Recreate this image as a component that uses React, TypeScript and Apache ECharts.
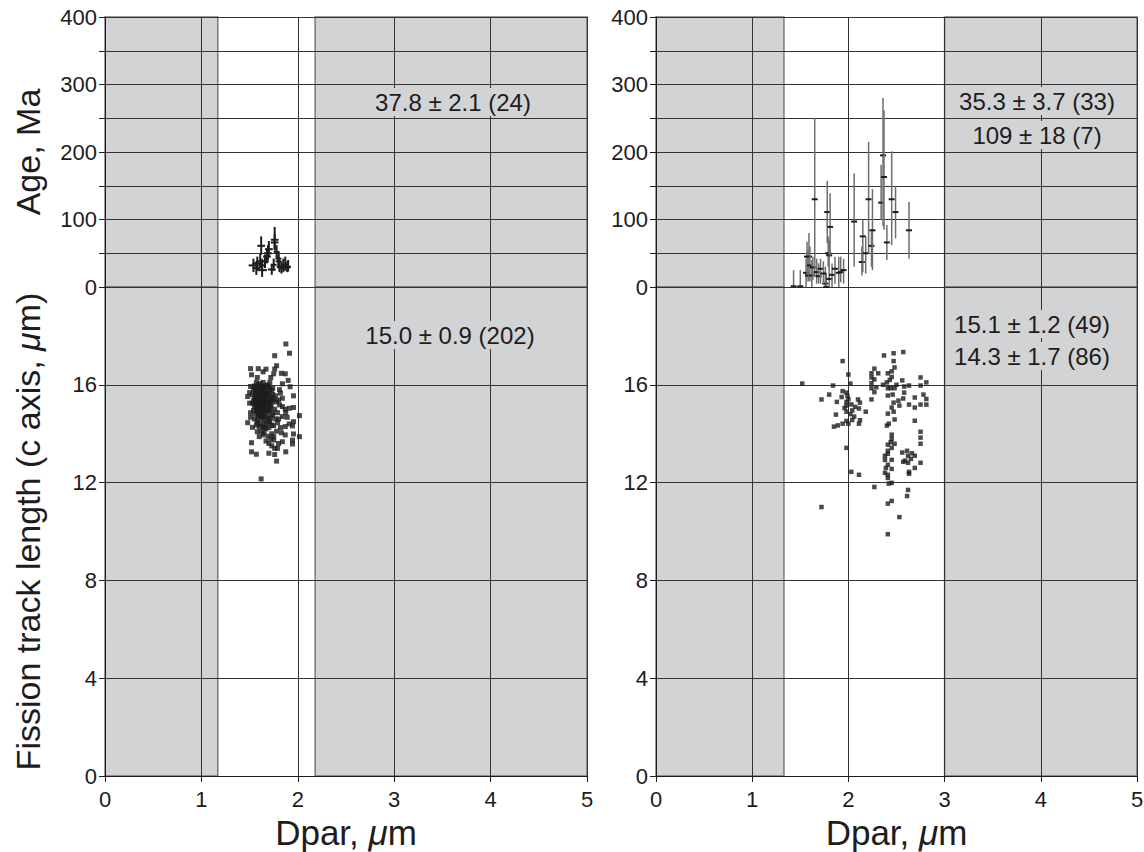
import React, { useEffect, useRef } from "react";
import * as echarts from "echarts";

// ---------- data ----------
const X_TICKS = [0, 1, 2, 3, 4, 5];
const LEFT_BANDS = [[0, 1.17], [2.18, 5]];
const RIGHT_BANDS = [[0, 1.33], [3.0, 5]];

// left age: [Dpar, age, DparErr, ageLow, ageHigh]
const LEFT_AGES = [
  [1.54, 32, 0.05, 22, 42], [1.57, 28, 0.04, 18, 38], [1.58, 35, 0.05, 25, 45],
  [1.61, 38, 0.04, 28, 50], [1.62, 61, 0.04, 48, 75], [1.63, 25, 0.05, 15, 35],
  [1.63, 32, 0.04, 22, 42], [1.66, 38, 0.04, 28, 48], [1.68, 45, 0.04, 35, 57],
  [1.69, 50, 0.04, 40, 62], [1.70, 56, 0.04, 45, 68], [1.73, 26, 0.04, 18, 34],
  [1.75, 33, 0.03, 24, 42], [1.76, 70, 0.04, 56, 89], [1.76, 66, 0.04, 54, 78],
  [1.78, 52, 0.03, 42, 62], [1.80, 38, 0.03, 28, 48], [1.80, 42, 0.03, 32, 52],
  [1.81, 30, 0.03, 22, 40], [1.83, 28, 0.03, 20, 38], [1.85, 30, 0.03, 22, 42],
  [1.87, 33, 0.03, 24, 45], [1.89, 29, 0.03, 22, 38], [1.90, 30, 0.03, 23, 40],
];

// right age: [Dpar, age, ageLow, ageHigh]
const RIGHT_AGES = [
  [1.43, 1, 0, 25], [1.50, 1, 0, 25], [1.56, 21, 0, 42], [1.57, 45, 20, 67],
  [1.58, 17, 8, 55], [1.59, 45, 10, 80], [1.60, 32, 8, 60], [1.62, 17, 0, 40],
  [1.63, 29, 10, 45], [1.65, 130, 15, 250], [1.67, 22, 5, 42], [1.69, 16, 5, 35],
  [1.71, 27, 5, 42], [1.76, 5, 0, 30], [1.77, 0, 0, 20], [1.78, 111, 65, 157],
  [1.79, 50, 30, 75], [1.80, 47, 25, 70], [1.80, 12, 0, 25], [1.81, 89, 45, 139],
  [1.83, 18, 0, 35], [1.86, 27, 5, 45], [1.90, 21, 0, 45], [1.92, 22, 7, 45],
  [1.95, 25, 5, 42], [2.06, 97, 30, 168], [2.14, 37, 17, 60], [2.15, 75, 22, 100],
  [2.18, 50, 20, 75], [2.21, 130, 50, 215], [2.24, 61, 30, 85], [2.25, 84, 25, 145],
  [2.34, 125, 100, 181], [2.36, 195, 90, 280], [2.37, 163, 85, 262], [2.40, 66, 40, 92],
  [2.45, 130, 62, 201], [2.49, 111, 72, 150], [2.63, 84, 42, 126], [1.74, 20, 5, 38],
];

// left lengths: [Dpar, length]
const LEFT_LENGTHS_OUTER = [
  [1.876, 17.67], [1.914, 17.29], [1.76, 17.19], [1.78, 16.78], [1.76, 16.64], [1.51, 16.66],
  [1.59, 16.66], [1.67, 16.64], [1.64, 16.53], [1.83, 16.47], [1.87, 16.45], [1.52, 16.41],
  [1.58, 16.3], [1.72, 16.3], [1.75, 16.45], [1.90, 16.18], [1.84, 16.04], [1.92, 15.92],
  [1.51, 15.93], [1.55, 15.93], [1.59, 16.0], [1.62, 15.9], [1.65, 15.93], [1.70, 15.9],
  [1.74, 15.86], [1.50, 15.68], [1.48, 15.52], [1.56, 15.73], [1.60, 15.66], [1.63, 15.73],
  [1.67, 15.59], [1.70, 15.66], [1.82, 15.66], [1.84, 15.45], [1.955, 15.55], [1.80, 15.38],
  [1.50, 15.25], [1.53, 15.25], [1.56, 15.32], [1.60, 15.38], [1.62, 15.18], [1.65, 15.25],
  [1.69, 15.32], [1.72, 15.18], [1.75, 15.38], [1.81, 15.18], [1.84, 15.11], [1.91, 15.04],
  [1.955, 15.07], [1.87, 15.0], [2.017, 14.74], [1.51, 14.86], [1.58, 14.93], [1.63, 14.93],
  [1.69, 14.93], [1.74, 14.86], [1.79, 14.86], [1.875, 14.86], [1.51, 14.67], [1.60, 14.7],
  [1.65, 14.7], [1.84, 14.7], [1.89, 14.67], [1.91, 14.4], [1.955, 14.49], [1.945, 14.32],
  [1.48, 14.45], [1.53, 14.26], [1.60, 14.29], [1.65, 14.25], [1.70, 14.45], [1.75, 14.33],
  [1.79, 14.45], [1.82, 14.25], [1.87, 14.29], [1.58, 14.08], [1.65, 14.04], [1.69, 13.9],
  [1.73, 14.0], [1.75, 13.88], [1.83, 14.04], [1.87, 13.95], [1.955, 13.99], [2.017, 13.88],
  [1.60, 13.88], [1.67, 13.7], [1.70, 13.6], [1.75, 13.74], [1.80, 13.6], [1.84, 13.67],
  [1.945, 13.74], [1.945, 13.58], [1.52, 13.63], [1.73, 13.5], [1.79, 13.4], [1.875, 13.26],
  [1.52, 13.26], [1.57, 13.16], [1.76, 13.15], [1.78, 12.88], [1.62, 12.15],
  [1.62, 14.1], [1.67, 14.2], [1.72, 13.8], [1.78, 14.1], [1.81, 15.8], [1.80, 14.6],
  [1.58, 14.45], [1.64, 13.95], [1.76, 13.4], [1.70, 13.2],
];
const LEFT_LENGTHS_CORE = [
  [1.57, 16.1], [1.61, 16.05], [1.64, 16.1], [1.68, 16.0], [1.71, 16.1],
  [1.55, 15.95], [1.58, 15.9], [1.62, 15.95], [1.66, 15.85], [1.69, 15.95], [1.73, 15.75],
  [1.54, 15.8], [1.57, 15.7], [1.60, 15.8], [1.63, 15.75], [1.65, 15.8], [1.67, 15.7], [1.71, 15.8], [1.74, 15.6],
  [1.53, 15.6], [1.56, 15.55], [1.59, 15.65], [1.61, 15.6], [1.64, 15.65], [1.66, 15.55], [1.69, 15.65], [1.72, 15.5], [1.77, 15.55],
  [1.55, 15.45], [1.58, 15.5], [1.60, 15.45], [1.62, 15.5], [1.64, 15.4], [1.66, 15.45], [1.68, 15.5], [1.71, 15.4], [1.74, 15.45],
  [1.54, 15.35], [1.57, 15.4], [1.59, 15.3], [1.61, 15.35], [1.63, 15.3], [1.65, 15.35], [1.67, 15.25], [1.70, 15.3], [1.73, 15.3], [1.78, 15.3],
  [1.56, 15.2], [1.58, 15.25], [1.60, 15.15], [1.62, 15.2], [1.64, 15.2], [1.66, 15.15], [1.69, 15.2], [1.72, 15.1],
  [1.55, 15.1], [1.57, 15.05], [1.59, 15.1], [1.61, 15.0], [1.63, 15.1], [1.65, 15.05], [1.68, 15.05], [1.71, 15.0], [1.76, 15.0],
  [1.54, 14.95], [1.58, 14.9], [1.60, 14.95], [1.62, 14.85], [1.64, 14.9], [1.67, 14.95], [1.70, 14.9], [1.74, 14.75],
  [1.56, 14.8], [1.59, 14.75], [1.61, 14.8], [1.63, 14.7], [1.66, 14.8], [1.69, 14.7], [1.72, 14.65],
  [1.55, 14.6], [1.58, 14.55], [1.62, 14.6], [1.65, 14.5], [1.68, 14.6], [1.71, 14.5], [1.77, 14.6],
  [1.57, 14.35], [1.61, 14.4], [1.64, 14.3], [1.67, 14.4], [1.70, 14.25], [1.73, 14.35],
];

// right lengths: [Dpar, length]
const RIGHT_LENGTHS = [
  [1.52, 16.05], [1.94, 16.97], [2.00, 16.42], [2.02, 16.05], [1.84, 15.97], [1.80, 15.6],
  [1.72, 15.4], [1.88, 15.3], [1.94, 15.74], [1.98, 15.68], [1.98, 15.3], [1.98, 15.15],
  [2.00, 15.41], [2.10, 15.4], [2.12, 15.27], [2.11, 15.03], [2.04, 14.95], [2.06, 14.7],
  [1.98, 14.9], [1.87, 14.78], [2.18, 14.9], [2.04, 14.56], [1.98, 14.52], [2.12, 14.55],
  [1.94, 14.41], [2.00, 14.41], [2.11, 14.41], [1.89, 14.34], [1.85, 14.29], [1.98, 13.42],
  [2.03, 12.44], [2.11, 12.32], [1.72, 11.0], [2.27, 11.82],
  [2.37, 17.2], [2.47, 17.29], [2.57, 17.34], [2.47, 16.97], [2.48, 16.71], [2.45, 16.55],
  [2.41, 16.47], [2.31, 16.47], [2.24, 16.47], [2.27, 16.66], [2.45, 16.32], [2.27, 16.22],
  [2.24, 16.07], [2.24, 15.86], [2.27, 15.7], [2.24, 15.4], [2.40, 16.1], [2.41, 15.86],
  [2.44, 15.86], [2.48, 15.86], [2.56, 16.18], [2.58, 15.93], [2.58, 15.68], [2.63, 15.97],
  [2.75, 16.3], [2.81, 16.1], [2.75, 15.97], [2.41, 15.56], [2.69, 15.48], [2.81, 15.42],
  [2.81, 15.19], [2.75, 15.19], [2.63, 15.19], [2.69, 15.07], [2.53, 15.15], [2.57, 15.44],
  [2.47, 15.27], [2.45, 15.07], [2.47, 14.9], [2.41, 14.82], [2.48, 14.58], [2.42, 14.41],
  [2.40, 14.33], [2.69, 14.53], [2.75, 14.08], [2.75, 13.84], [2.75, 13.59], [2.45, 13.96],
  [2.45, 13.79], [2.48, 13.59], [2.41, 13.55], [2.45, 13.42], [2.41, 13.3], [2.41, 13.18],
  [2.38, 13.1], [2.38, 12.93], [2.45, 12.93], [2.41, 12.73], [2.45, 12.56], [2.38, 12.4],
  [2.41, 12.32], [2.41, 12.19], [2.42, 11.96], [2.45, 11.99], [2.56, 13.23], [2.61, 13.3],
  [2.62, 13.1], [2.57, 12.85], [2.62, 12.81], [2.65, 12.97], [2.69, 13.1], [2.69, 12.6],
  [2.63, 12.44], [2.63, 12.36], [2.75, 12.81], [2.62, 11.7], [2.61, 11.45], [2.41, 11.14],
  [2.45, 11.25], [2.53, 10.59], [2.41, 9.89],
  [1.99, 15.55], [2.03, 15.2], [1.96, 15.05], [2.07, 15.1], [2.02, 14.8], [1.93, 15.5],
  [2.24, 16.3], [2.29, 15.9], [2.43, 16.2], [2.50, 16.0], [2.46, 15.6], [2.52, 15.35],
  [2.44, 13.65], [2.39, 12.6], [2.66, 13.2], [2.59, 12.9], [2.78, 15.6], [2.36, 16.0],
];

const ANNOTATIONS = [
  { text: "37.8 \u00b1 2.1 (24)", x: 453, y: 102 },
  { text: "15.0 \u00b1 0.9 (202)", x: 450, y: 335 },
  { text: "35.3 \u00b1 3.7 (33)", x: 1037, y: 101 },
  { text: "109 \u00b1 18 (7)", x: 1037, y: 135 },
  { text: "15.1 \u00b1 1.2 (49)", x: 1032, y: 324 },
  { text: "14.3 \u00b1 1.7 (86)", x: 1032, y: 356 },
];

// ---------- styling ----------
const FONT = '"Liberation Sans", Arial, Helvetica, sans-serif';
const INK = "#1e1c1d";
const GREY = "#d2d3d5";
const LINE = "#333333";

const GRIDS = [
  { left: 105, top: 17, width: 482, height: 270 },
  { left: 105, top: 287, width: 482, height: 489 },
  { left: 656, top: 17, width: 481, height: 270 },
  { left: 656, top: 287, width: 481, height: 489 },
];

function xAxis(gridIndex: number, bottom: boolean) {
  return {
    type: "value",
    gridIndex,
    min: X_TICKS[0],
    max: X_TICKS[X_TICKS.length - 1],
    interval: 1,
    z: 3,
    axisLine: { show: bottom, lineStyle: { color: INK, width: 1 } },
    axisTick: { show: bottom, inside: false, length: 6, lineStyle: { color: INK } },
    axisLabel: {
      show: bottom,
      margin: 12,
      fontSize: 22,
      color: INK,
      fontFamily: FONT,
    },
    splitLine: { show: true, lineStyle: { color: LINE, width: 1 } },
    name: bottom ? "Dpar, {i|\u03bc}m" : "",
    nameLocation: "middle",
    nameGap: 37,
    nameTextStyle: {
      fontSize: 35,
      color: INK,
      fontFamily: FONT,
      rich: { i: { fontStyle: "italic", fontSize: 35, color: INK, fontFamily: FONT } },
    },
  };
}

function yAxis(gridIndex: number, top: boolean, name: string) {
  return {
    type: "value",
    gridIndex,
    min: 0,
    max: top ? 400 : 20,
    interval: top ? 50 : 4,
    z: 3,
    axisLine: { show: true, lineStyle: { color: INK, width: 1 } },
    axisTick: { show: true, inside: false, length: 6, lineStyle: { color: INK } },
    axisLabel: {
      margin: 8,
      fontSize: 22,
      color: INK,
      fontFamily: FONT,
      formatter: (v: number) =>
        top ? (v % 100 === 0 ? String(v) : "") : v === 20 ? "" : String(v),
    },
    splitLine: { show: true, lineStyle: { color: LINE, width: 1 } },
    name,
    nameLocation: "middle",
    nameGap: 60,
    nameTextStyle: {
      fontSize: 34,
      color: INK,
      fontFamily: FONT,
      rich: { i: { fontStyle: "italic", fontSize: 34, color: INK, fontFamily: FONT } },
    },
  };
}

function bandSeries(axisIndex: number, bands: number[][]) {
  return {
    type: "custom",
    xAxisIndex: axisIndex,
    yAxisIndex: axisIndex,
    z: 1,
    silent: true,
    encode: { x: [0, 1] },
    data: bands,
    renderItem: (params: any, api: any) => {
      const cs = params.coordSys;
      const a = api.coord([api.value(0), 0]);
      const b = api.coord([api.value(1), 0]);
      return {
        type: "rect",
        shape: { x: a[0], y: cs.y, width: b[0] - a[0], height: cs.height },
        style: { fill: GREY, stroke: "#7a7a7a", lineWidth: 1.5 },
      };
    },
  };
}

function leftAgeSeries() {
  return {
    type: "custom",
    xAxisIndex: 0,
    yAxisIndex: 0,
    z: 5,
    encode: { x: 0, y: 1 },
    data: LEFT_AGES,
    renderItem: (_p: any, api: any) => {
      const x = api.value(0);
      const y = api.value(1);
      const xe = api.value(2);
      const l = api.coord([x - xe, y]);
      const r = api.coord([x + xe, y]);
      const t = api.coord([x, api.value(4)]);
      const b = api.coord([x, api.value(3)]);
      const st = { stroke: INK, lineWidth: 2 };
      return {
        type: "group",
        children: [
          { type: "line", shape: { x1: l[0], y1: l[1], x2: r[0], y2: r[1] }, style: st },
          { type: "line", shape: { x1: t[0], y1: t[1], x2: b[0], y2: b[1] }, style: st },
        ],
      };
    },
  };
}

function rightAgeSeries() {
  return {
    type: "custom",
    xAxisIndex: 2,
    yAxisIndex: 2,
    z: 5,
    encode: { x: 0, y: 1 },
    data: RIGHT_AGES,
    renderItem: (_p: any, api: any) => {
      const x = api.value(0);
      const c = api.coord([x, api.value(1)]);
      const t = api.coord([x, api.value(3)]);
      const b = api.coord([x, api.value(2)]);
      return {
        type: "group",
        children: [
          {
            type: "line",
            shape: { x1: t[0], y1: t[1], x2: b[0], y2: b[1] },
            style: { stroke: "#6d6e71", lineWidth: 1.5 },
          },
          {
            type: "line",
            shape: { x1: c[0] - 3, y1: c[1], x2: c[0] + 3, y2: c[1] },
            style: { stroke: INK, lineWidth: 2 },
          },
        ],
      };
    },
  };
}

function scatter(axisIndex: number, data: number[][], size: number) {
  return {
    type: "scatter",
    xAxisIndex: axisIndex,
    yAxisIndex: axisIndex,
    z: 5,
    symbol: "rect",
    symbolSize: size,
    itemStyle: { color: INK },
    data,
  };
}

export default function App() {
  const ref = useRef<HTMLDivElement>(null);
  useEffect(() => {
    document.body.style.margin = "0";
    if (!ref.current) return;
    const chart = echarts.init(ref.current, undefined, { renderer: "svg" });
    chart.setOption({
      animation: false,
      backgroundColor: "#ffffff",
      grid: GRIDS.map((g) => ({
        ...g,
        show: false,
        containLabel: false,
        outerBoundsMode: "none",
      })),
      xAxis: [xAxis(0, false), xAxis(1, true), xAxis(2, false), xAxis(3, true)],
      yAxis: [
        yAxis(0, true, "Age, Ma"),
        yAxis(1, false, "Fission track length (c axis, {i|\u03bc}m)"),
        yAxis(2, true, ""),
        yAxis(3, false, ""),
      ],
      series: [
        bandSeries(0, LEFT_BANDS),
        bandSeries(1, LEFT_BANDS),
        bandSeries(2, RIGHT_BANDS),
        bandSeries(3, RIGHT_BANDS),
        leftAgeSeries(),
        rightAgeSeries(),
        scatter(1, LEFT_LENGTHS_OUTER, 5),
        scatter(1, LEFT_LENGTHS_CORE, 5),
        scatter(3, RIGHT_LENGTHS, 4.5),
      ],
      graphic: ANNOTATIONS.map((a) => ({
        type: "text",
        x: a.x,
        y: a.y,
        z: 100,
        silent: true,
        style: {
          text: a.text,
          fontSize: 24,
          fontFamily: FONT,
          fill: INK,
          align: "center",
          verticalAlign: "middle",
          backgroundColor: GREY,
          padding: [2, 3],
        },
      })),
    });
    return () => chart.dispose();
  }, []);
  return <div ref={ref} style={{ width: 1144, height: 852 }} />;
}
